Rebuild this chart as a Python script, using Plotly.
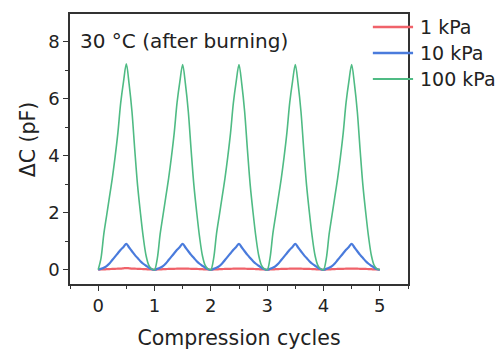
import plotly.graph_objects as go

cycles_x = [round(i * 0.05, 2) for i in range(101)]

# 100 kPa (green)
green = [
    0.00, 0.40, 1.25, 1.90, 2.55, 3.20, 3.95, 4.80, 5.85, 6.60,
    7.22, 6.50, 5.55, 4.20, 2.95, 2.00, 1.15, 0.50, 0.15, 0.03,
    0.00, 0.40, 1.25, 1.90, 2.55, 3.20, 3.95, 4.80, 5.85, 6.60,
    7.20, 6.50, 5.55, 4.20, 2.95, 2.00, 1.15, 0.50, 0.15, 0.03,
    0.00, 0.40, 1.25, 1.90, 2.55, 3.20, 3.95, 4.80, 5.85, 6.60,
    7.20, 6.50, 5.55, 4.20, 2.95, 2.00, 1.15, 0.50, 0.15, 0.03,
    0.00, 0.40, 1.25, 1.90, 2.55, 3.20, 3.95, 4.80, 5.85, 6.60,
    7.20, 6.50, 5.55, 4.20, 2.95, 2.00, 1.15, 0.50, 0.15, 0.03,
    0.00, 0.40, 1.25, 1.90, 2.55, 3.20, 3.95, 4.80, 5.85, 6.60,
    7.20, 6.50, 5.55, 4.20, 2.95, 2.00, 1.15, 0.50, 0.15, 0.03,
    0.00,
]

# 10 kPa (blue)
blue = [
    0.00, 0.03, 0.07, 0.13, 0.22, 0.34, 0.46, 0.58, 0.70, 0.80,
    0.91, 0.78, 0.65, 0.52, 0.41, 0.30, 0.21, 0.14, 0.07, 0.02,
    0.00, 0.03, 0.07, 0.13, 0.22, 0.34, 0.46, 0.58, 0.70, 0.80,
    0.91, 0.78, 0.65, 0.52, 0.41, 0.30, 0.21, 0.14, 0.07, 0.02,
    0.00, 0.03, 0.07, 0.13, 0.22, 0.34, 0.46, 0.58, 0.70, 0.80,
    0.91, 0.78, 0.65, 0.52, 0.41, 0.30, 0.21, 0.14, 0.07, 0.02,
    0.00, 0.03, 0.07, 0.13, 0.22, 0.34, 0.46, 0.58, 0.70, 0.80,
    0.91, 0.78, 0.65, 0.52, 0.41, 0.30, 0.21, 0.14, 0.07, 0.02,
    0.00, 0.03, 0.07, 0.13, 0.22, 0.34, 0.46, 0.58, 0.70, 0.80,
    0.91, 0.78, 0.65, 0.52, 0.41, 0.30, 0.21, 0.14, 0.07, 0.02,
    0.00,
]

# 1 kPa (red)
red = [
    0.00, 0.01, 0.01, 0.02, 0.02, 0.03, 0.03, 0.04, 0.04, 0.05,
    0.06, 0.05, 0.04, 0.04, 0.03, 0.03, 0.02, 0.02, 0.01, 0.01,
    0.00, 0.01, 0.01, 0.02, 0.02, 0.03, 0.03, 0.03, 0.04, 0.04,
    0.04, 0.04, 0.04, 0.03, 0.03, 0.03, 0.02, 0.02, 0.01, 0.01,
    0.00, 0.01, 0.01, 0.02, 0.02, 0.03, 0.03, 0.03, 0.04, 0.04,
    0.04, 0.04, 0.04, 0.03, 0.03, 0.03, 0.02, 0.02, 0.01, 0.01,
    0.00, 0.01, 0.01, 0.02, 0.02, 0.03, 0.03, 0.03, 0.04, 0.04,
    0.04, 0.04, 0.04, 0.03, 0.03, 0.03, 0.02, 0.02, 0.01, 0.01,
    0.00, 0.01, 0.01, 0.02, 0.02, 0.03, 0.03, 0.03, 0.04, 0.04,
    0.04, 0.04, 0.04, 0.03, 0.03, 0.03, 0.02, 0.02, 0.01, 0.01,
    0.00,
]

series_names = ["1 kPa", "10 kPa", "100 kPa"]
series_colors = ["#f0626a", "#4a7bdc", "#4fbb84"]
series_widths = [2.2, 2.2, 1.6]

x_ticks = [0, 1, 2, 3, 4, 5]
y_ticks = [0, 2, 4, 6, 8]

FONT = "'DejaVu Sans', Arial, sans-serif"
TXT = "#222222"

fig = go.Figure()
for name, ys, col, w in zip(series_names, [red, blue, green], series_colors, series_widths):
    fig.add_trace(go.Scatter(x=cycles_x, y=ys, mode="lines", name=name, showlegend=False,
                             line=dict(color=col, width=w, shape="spline", smoothing=0.9)))

axis_common = dict(
    showline=True, linecolor="#333333", linewidth=1.5, mirror=True,
    ticks="outside", ticklen=5, tickwidth=1.3, tickcolor="#333333",
    showgrid=False, zeroline=False, automargin=False,
    tickfont=dict(family=FONT, size=18, color=TXT),
)

fig.update_xaxes(range=[-0.5, 5.5], tickvals=x_ticks,
                 minor=dict(dtick=0.5, ticks="outside", ticklen=3, tickcolor="#333333"),
                 title=dict(text="Compression cycles", font=dict(family=FONT, size=20.5, color=TXT), standoff=15),
                 **axis_common)
fig.update_yaxes(range=[-0.5, 8.97], tickvals=y_ticks,
                 minor=dict(dtick=1, ticks="outside", ticklen=3, tickcolor="#333333"),
                 **axis_common)

# y-axis title placed slightly above the plot's vertical centre, as in the reference
fig.add_annotation(text="ΔC (pF)", xref="paper", yref="paper",
                   x=-0.125, y=0.535, xanchor="center", yanchor="middle", textangle=-90,
                   showarrow=False, font=dict(family=FONT, size=20.5, color=TXT))

fig.add_annotation(text="30 °C (after burning)", xref="paper", yref="paper",
                   x=0.025, y=0.9, xanchor="left", yanchor="middle", showarrow=False,
                   font=dict(family=FONT, size=20, color=TXT))

# Legend drawn as key lines + labels to the right of the plot box
legend_y = [0.952, 0.856, 0.759]
for name, col, w, ly in zip(series_names, series_colors, series_widths, legend_y):
    fig.add_shape(type="line", xref="paper", yref="paper",
                  x0=0.896, x1=1.015, y0=ly, y1=ly,
                  line=dict(color=col, width=w + 0.3))
    fig.add_annotation(text=name, xref="paper", yref="paper",
                       x=1.031, y=ly, xanchor="left", yanchor="middle", showarrow=False,
                       font=dict(family=FONT, size=19, color=TXT))

fig.update_layout(
    width=501, height=352,
    margin=dict(l=70, r=93, t=14, b=68),
    plot_bgcolor="white", paper_bgcolor="white",
    showlegend=False,
)

fig.write_html("out.html", config={"displayModeBar": False},
               post_script="document.body.style.margin='0';document.body.style.overflow='hidden';")
